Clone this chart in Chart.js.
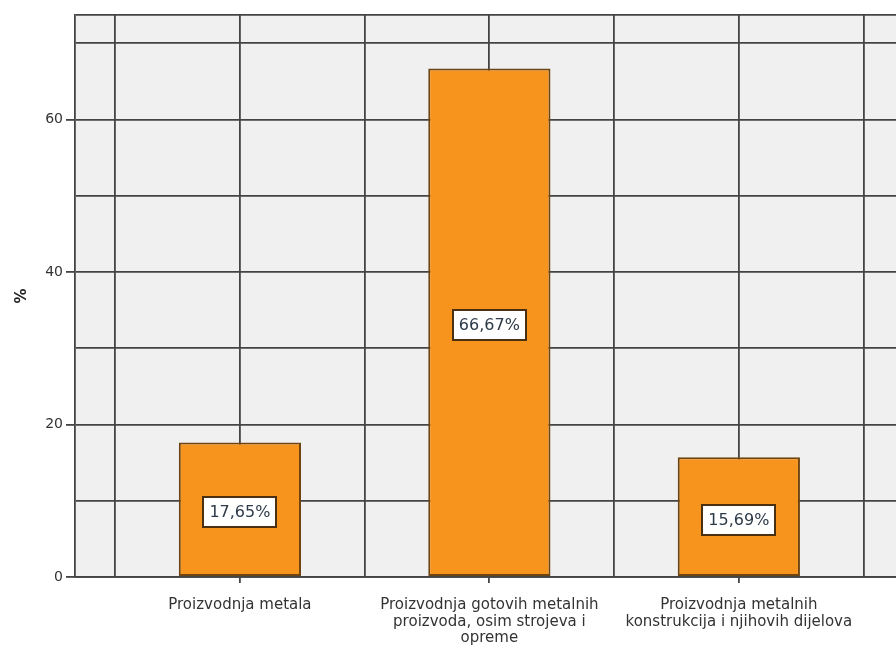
<!DOCTYPE html>
<html>
<head>
<meta charset="utf-8">
<script src="https://cdn.jsdelivr.net/npm/chart.js@4/dist/chart.umd.min.js"></script>
<style>
  html, body { margin: 0; padding: 0; background: #fff; overflow: hidden; }
  #wrap { width: 896px; height: 652px; }
</style>
</head>
<body>
<div id="wrap"><canvas id="chart" width="896" height="652"></canvas></div>
<script>
// ── Metal industry share by activity (SPSS style bar chart) ──────────────────

var categories = [
    ['Proizvodnja metala'],
    ['Proizvodnja gotovih metalnih', 'proizvoda, osim strojeva i', 'opreme'],
    ['Proizvodnja metalnih', 'konstrukcija i njihovih dijelova']
];
var percents   = [17.65, 66.67, 15.69];
var valueTexts = ['17,65%', '66,67%', '15,69%'];
var yTicks     = [0, 10, 20, 30, 40, 50, 60, 70];
var yMax       = 73.7;

var FONT = '"DejaVu Sans", Verdana, sans-serif';
var LINE = '#444444';
var NONE = 'rgba(0,0,0,0)';

// Plot area background
var plotBgPlugin = {
    id: 'plotBg',
    beforeDraw: function (chart) {
        var a = chart.chartArea, ctx = chart.ctx;
        ctx.save();
        ctx.fillStyle = '#f0f0f0';
        ctx.fillRect(a.left, a.top, a.right - a.left, a.bottom - a.top);
        ctx.restore();
    }
};

// Boxed value labels in the middle of every bar
var boxLabelsPlugin = {
    id: 'boxLabels',
    afterDatasetsDraw: function (chart) {
        var ctx = chart.ctx;
        ctx.save();
        ctx.font = '16px ' + FONT;
        ctx.textAlign = 'center';
        ctx.textBaseline = 'middle';
        chart.getDatasetMeta(0).data.forEach(function (bar, i) {
            var txt = valueTexts[i];
            var w = Math.round(ctx.measureText(txt).width + 12);
            var h = 30;
            var x0 = Math.round(bar.x - w / 2);
            var y0 = Math.round((bar.y + bar.base) / 2 + 3 - h / 2);
            ctx.fillStyle = '#ffffff';
            ctx.fillRect(x0, y0, w, h);
            ctx.lineWidth = 2;
            ctx.strokeStyle = '#4a3010';
            ctx.strokeRect(x0, y0, w, h);
            ctx.fillStyle = '#2e3a48';
            ctx.fillText(txt, bar.x, y0 + h / 2 + 1);
        });
        ctx.restore();
    }
};

function tickVal(c) { return c && c.tick ? c.tick.value : null; }

/* global Chart */
new Chart(document.getElementById('chart'), {
    type: 'bar',
    data: {
        datasets: [{
            label: '%',
            data: percents.map(function (v, i) { return { x: i + 1, y: v }; }),
            backgroundColor: '#f7941e',
            borderColor: '#6e4410',
            borderWidth: 2,
            borderSkipped: false,
            barPercentage: 0.98,
            categoryPercentage: 1
        }]
    },
    options: {
        responsive: false,
        animation: false,
        events: [],
        layout: { padding: { top: 15, right: 0, left: 0, bottom: 0 } },
        plugins: {
            legend: { display: false },
            tooltip: { enabled: false }
        },
        scales: {
            x: {
                type: 'linear',
                offset: false,
                min: 0.339,
                max: 3.63,
                afterBuildTicks: function (s) {
                    s.ticks = [0.5, 1, 1.5, 2, 2.5, 3, 3.5].map(function (v) { return { value: v }; });
                },
                afterFit: function (s) { s.height = 75; },
                grid: {
                    offset: false,
                    color: LINE,
                    lineWidth: 1.8,
                    tickLength: 6,
                    tickColor: function (c) {
                        return Number.isInteger(tickVal(c)) ? LINE : NONE;
                    }
                },
                border: { display: true, color: LINE, width: 1.8 },
                ticks: {
                    autoSkip: false,
                    maxRotation: 0,
                    padding: 14,
                    color: '#333',
                    font: { family: FONT, size: 15, lineHeight: 1.1 },
                    callback: function (v) {
                        return Number.isInteger(v) ? categories[v - 1] : '';
                    }
                }
            },
            y: {
                min: 0,
                max: yMax,
                afterBuildTicks: function (s) {
                    s.ticks = yTicks.concat([yMax]).map(function (v) { return { value: v }; });
                },
                afterFit: function (s) { s.width = 75; },
                grid: {
                    color: LINE,
                    lineWidth: 1.8,
                    tickLength: 9,
                    tickColor: function (c) {
                        var v = tickVal(c);
                        return v !== null && v % 20 === 0 ? LINE : NONE;
                    }
                },
                border: { display: true, color: LINE, width: 1.8 },
                ticks: {
                    padding: 3,
                    color: '#333',
                    font: { family: FONT, size: 14 },
                    callback: function (v) { return v % 20 === 0 ? String(v) : ''; }
                },
                title: {
                    display: true,
                    text: '%',
                    color: '#222',
                    font: { family: FONT, size: 15, weight: 'bold' },
                    padding: { top: 13, bottom: 4 }
                }
            }
        }
    },
    plugins: [plotBgPlugin, boxLabelsPlugin]
});
</script>
</body>
</html>
